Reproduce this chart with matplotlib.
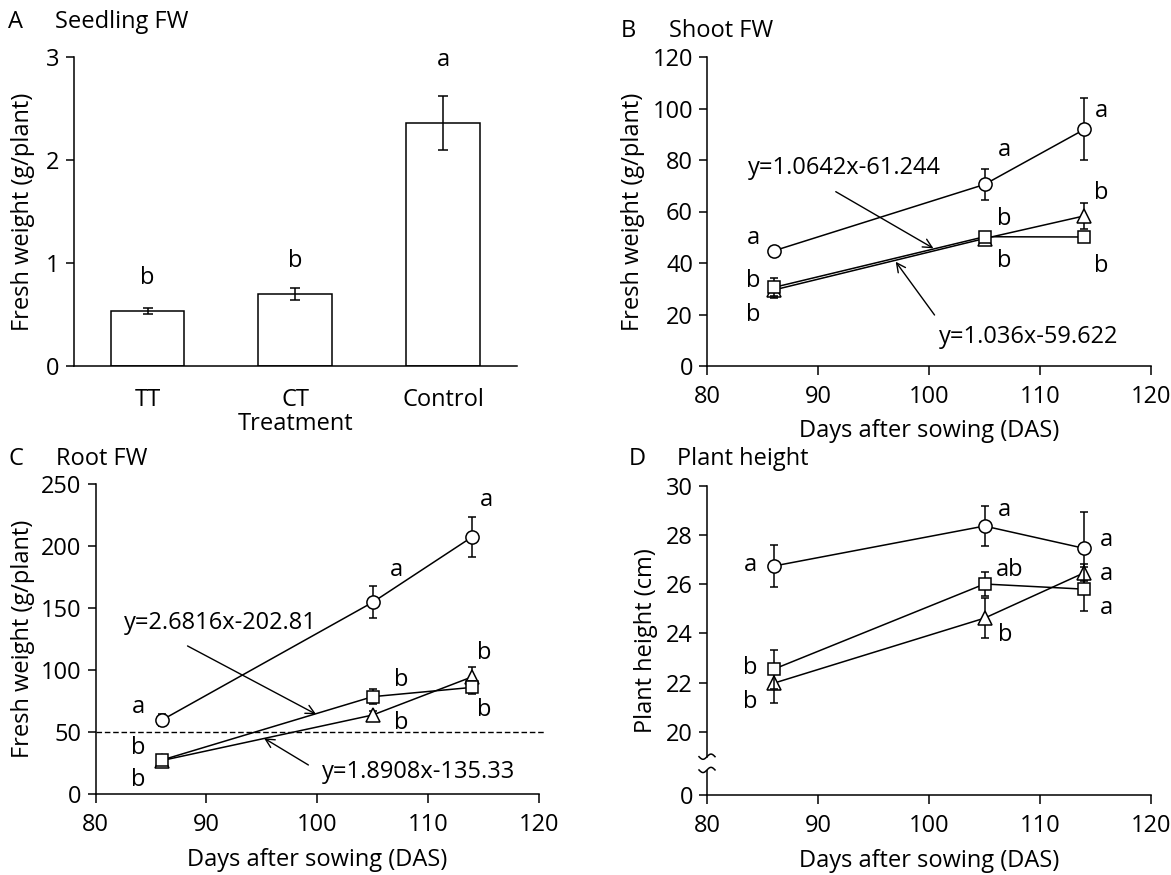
import numpy as np
import matplotlib
matplotlib.use("Agg")
import matplotlib.pyplot as plt

FS = 17
plt.rcParams['font.family'] = ['Open Sans', 'DejaVu Sans']
plt.rcParams['font.size'] = FS
plt.rcParams['axes.linewidth'] = 1.1

# ---------------- data ----------------
# Panel A
treatments = ["TT", "CT", "Control"]
seedling_fw = [0.534, 0.70, 2.36]
seedling_err = [0.03, 0.056, 0.26]
seedling_letters = ["b", "b", "a"]
seedling_letter_y = [0.85, 1.02, 2.97]

days = [86, 105, 114]

# Panel B (shoot FW)
shoot_circle = [44.7, 70.5, 91.9]
shoot_circle_err = [1.0, 6.0, 12.0]
shoot_square = [30.5, 50.2, 50.1]
shoot_square_err = [3.5, 1.0, 1.0]
shoot_tri = [29.5, 49.5, 58.3]
shoot_tri_err = [3.0, 1.5, 5.0]
shoot_letters = [(84.2, 49.8, "a"), (84.2, 33.0, "b"), (84.2, 19.8, "b"),
                 (106.8, 83.9, "a"), (106.8, 57.0, "b"), (106.8, 40.8, "b"),
                 (115.5, 99.0, "a"), (115.5, 67.0, "b"), (115.5, 38.9, "b")]
shoot_eq1 = "y=1.0642x-61.244"
shoot_eq2 = "y=1.036x-59.622"

# Panel C (root FW)
root_circle = [59.7, 154.6, 207.5]
root_circle_err = [5.0, 13.0, 16.0]
root_square = [27.4, 78.5, 86.0]
root_square_err = [4.0, 6.0, 5.0]
root_tri = [27.0, 63.7, 94.6]
root_tri_err = [4.0, 3.0, 8.0]
root_letters = [(83.9, 70.4, "a"), (83.9, 36.8, "b"), (83.9, 11.3, "b"),
                (107.1, 180.6, "a"), (107.6, 92.0, "b"), (107.6, 57.0, "b"),
                (115.3, 237.0, "a"), (115.1, 113.4, "b"), (115.1, 67.7, "b")]
root_eq1 = "y=2.6816x-202.81"
root_eq2 = "y=1.8908x-135.33"
root_threshold = 50

# Panel D (plant height)
height_circle = [26.74, 28.37, 27.46]
height_circle_err = [0.85, 0.8, 1.5]
height_square = [22.54, 26.01, 25.80]
height_square_err = [0.8, 0.5, 0.9]
height_tri = [21.97, 24.62, 26.47]
height_tri_err = [0.8, 0.8, 0.35]
height_letters = [(83.9, 26.78, "a"), (83.9, 22.6, "b"), (83.9, 21.2, "b"),
                  (106.8, 29.02, "a"), (107.3, 26.6, "ab"), (106.9, 23.94, "b"),
                  (116.0, 27.8, "a"), (116.0, 26.42, "a"), (116.0, 25.02, "a")]

W, H = 1171, 875
fig = plt.figure(figsize=(W / 100, H / 100), dpi=100)


def px_axes(left, top, right, bottom):
    return fig.add_axes([left / W, 1 - bottom / H, (right - left) / W, (bottom - top) / H])


axA = px_axes(73.6, 57, 517, 366)
axB = px_axes(707, 57, 1151, 366)
axC = px_axes(95.5, 484, 539, 794)
axD = px_axes(707, 486, 1151, 795)

LW = 1.1
MS = 9.5


def style(ax):
    for s in ["top", "right"]:
        ax.spines[s].set_visible(False)
    ax.tick_params(direction="out", length=6, width=LW, labelsize=FS)
    ax.tick_params(axis="y", pad=4)
    ax.tick_params(axis="x", length=6.5, pad=7)


def labels(ax, xl, yl, xy_x, xy_y):
    ax.set_xlabel(xl, fontsize=FS)
    ax.xaxis.label.set_va("center")
    ax.xaxis.set_label_coords(0.5, xy_x)
    ax.set_ylabel(yl, fontsize=FS)
    ax.yaxis.label.set_va("center")
    ax.yaxis.set_label_coords(xy_y, 0.5)


def series(ax, y, err, marker, ms, z):
    ax.plot(days, y, color="k", lw=LW, zorder=z)
    ax.errorbar(days, y, yerr=err, fmt="none", ecolor="k", elinewidth=LW,
                capsize=3, capthick=LW, zorder=z)
    ax.plot(days, y, linestyle="none", marker=marker, ms=ms, mfc="white",
            mec="k", mew=LW, zorder=z + 0.5)


ARROW = dict(arrowstyle="->", lw=1.0, color="k", mutation_scale=16, shrinkA=0, shrinkB=0)

# ---------------- Panel A ----------------
style(axA)
xA = np.arange(len(treatments))
axA.bar(xA, seedling_fw, width=0.5, color="white", edgecolor="k", linewidth=LW, zorder=2)
axA.errorbar(xA, seedling_fw, yerr=seedling_err, fmt="none", ecolor="k",
             elinewidth=LW, capsize=3.5, capthick=LW, zorder=3)
for x, ly, t in zip(xA, seedling_letter_y, seedling_letters):
    axA.text(x, ly, t, ha="center", va="center", fontsize=FS)
axA.set_xlim(-0.5, 2.5)
axA.set_ylim(0, 3)
axA.set_yticks([0, 1, 2, 3])
axA.set_xticks(xA)
axA.set_xticklabels(treatments)
axA.tick_params(axis="x", length=0, pad=16)
labels(axA, "Treatment", "Fresh weight (g/plant)", -0.188, -0.114)

# ---------------- Panel B ----------------
style(axB)
series(axB, shoot_circle, shoot_circle_err, "o", MS, 3)
series(axB, shoot_tri, shoot_tri_err, "^", MS + 0.5, 4)
series(axB, shoot_square, shoot_square_err, "s", MS - 0.5, 5)
for x, y, t in shoot_letters:
    axB.text(x, y, t, ha="center", va="center", fontsize=FS)
axB.text(83.7, 76.8, shoot_eq1, ha="left", va="center", fontsize=FS)
axB.annotate("", xy=(100.4, 45.7), xytext=(91.6, 67.7), arrowprops=ARROW)
axB.text(100.9, 11.4, shoot_eq2, ha="left", va="center", fontsize=FS)
axB.annotate("", xy=(97.0, 40.5), xytext=(100.5, 19.8), arrowprops=ARROW)
axB.set_xlim(80, 120)
axB.set_ylim(0, 120)
axB.set_xticks([80, 90, 100, 110, 120])
axB.set_yticks([0, 20, 40, 60, 80, 100, 120])
labels(axB, "Days after sowing (DAS)", "Fresh weight (g/plant)", -0.21, -0.166)

# ---------------- Panel C ----------------
style(axC)
axC.plot([80, 120.5], [root_threshold, root_threshold], color="k", lw=1.0,
         linestyle=(0, (4, 2)), clip_on=False, zorder=1)
series(axC, root_circle, root_circle_err, "o", MS, 3)
series(axC, root_tri, root_tri_err, "^", MS + 0.5, 4)
series(axC, root_square, root_square_err, "s", MS - 0.5, 5)
for x, y, t in root_letters:
    axC.text(x, y, t, ha="center", va="center", fontsize=FS)
axC.text(82.6, 138, root_eq1, ha="left", va="center", fontsize=FS)
axC.annotate("", xy=(99.9, 64.3), xytext=(88.3, 119.4), arrowprops=ARROW)
axC.text(100.4, 18, root_eq2, ha="left", va="center", fontsize=FS)
axC.annotate("", xy=(95.2, 45.0), xytext=(99.2, 23.4), arrowprops=ARROW)
axC.set_xlim(80, 120)
axC.set_ylim(0, 250)
axC.set_xticks([80, 90, 100, 110, 120])
axC.set_yticks([0, 50, 100, 150, 200, 250])
labels(axC, "Days after sowing (DAS)", "Fresh weight (g/plant)", -0.213, -0.163)

# ---------------- Panel D ----------------
style(axD)
ybot = 17.42  # position of the "0" tick below the axis break
series(axD, height_circle, height_circle_err, "o", MS, 3)
series(axD, height_tri, height_tri_err, "^", MS + 0.5, 4)
series(axD, height_square, height_square_err, "s", MS - 0.5, 5)
for x, y, t in height_letters:
    axD.text(x, y, t, ha="center", va="center", fontsize=FS)
axD.set_xlim(80, 120)
axD.set_ylim(ybot, 30)
axD.set_xticks([80, 90, 100, 110, 120])
axD.set_yticks([ybot, 20, 22, 24, 26, 28, 30])
axD.set_yticklabels(["0", "20", "22", "24", "26", "28", "30"])
# axis break
brk_hi, brk_lo = 18.98, 18.44
axD.spines["left"].set_bounds(brk_hi, 30)
ytr = axD.get_yaxis_transform()
axD.plot([0, 0], [ybot, brk_lo], color="k", lw=LW, transform=ytr, clip_on=False,
         solid_capstyle="butt")
tt = np.linspace(-1, 1, 40)
wx = 8 / 444.0
amp = 2.6 / 24.57
for yb in (brk_hi, brk_lo):
    axD.plot(tt * wx, yb + amp * np.sin(np.pi * tt), color="k", lw=LW,
             transform=ytr, clip_on=False)
labels(axD, "Days after sowing (DAS)", "Plant height (cm)", -0.213, -0.137)

# ---------------- panel titles ----------------
def ftext(x, y, s):
    fig.text(x / W, 1 - y / H, s, ha="left", va="center", fontsize=FS)


ftext(8, 22, "A")
ftext(55, 22, "Seedling FW")
ftext(621, 31, "B")
ftext(669, 31, "Shoot FW")
ftext(9, 459, "C")
ftext(56, 459, "Root FW")
ftext(629, 459, "D")
ftext(677, 459, "Plant height")

fig.savefig("out.png", dpi=100)
